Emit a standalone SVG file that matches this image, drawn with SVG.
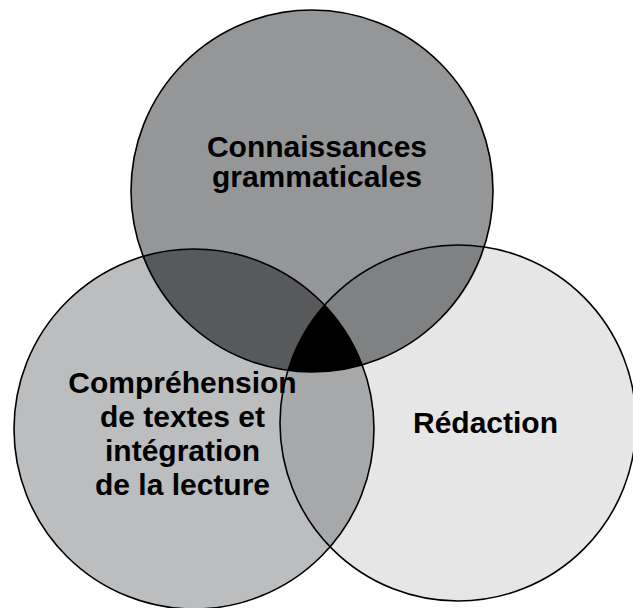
<svg xmlns="http://www.w3.org/2000/svg" width="633" height="608" viewBox="0 0 633 608">
  <style>
    .outline { fill: none; stroke: #000; stroke-width: 1.6; }
    .label { font-family: "Liberation Sans", Arial, Helvetica, sans-serif; font-weight: bold; font-size: 30px; fill: #000; text-anchor: middle; }
  </style>
  <defs>
    <clipPath id="clipTop"><circle cx="312" cy="191" r="181"/></clipPath>
    <clipPath id="clipLeft"><circle cx="194" cy="429" r="180"/></clipPath>
  </defs>
  <rect width="633" height="608" fill="#fff"/>
  <g id="regions">
    <circle cx="312" cy="191" r="181" fill="#959698"/>
    <circle cx="194" cy="429" r="180" fill="#bcbdbf"/>
    <circle cx="458" cy="423" r="178" fill="#e6e6e6"/>
    <circle cx="194" cy="429" r="180" fill="#58595b" clip-path="url(#clipTop)"/>
    <circle cx="458" cy="423" r="178" fill="#808183" clip-path="url(#clipTop)"/>
    <circle cx="458" cy="423" r="178" fill="#a7a8aa" clip-path="url(#clipLeft)"/>
    <g clip-path="url(#clipTop)">
      <circle cx="458" cy="423" r="178" fill="#000" clip-path="url(#clipLeft)"/>
    </g>
  </g>
  <g id="node-grammar">
    <circle class="outline" cx="312" cy="191" r="181"/>
    <text class="label" x="317" y="157">Connaissances</text>
    <text class="label" x="317" y="187">grammaticales</text>
  </g>
  <g id="node-reading">
    <circle class="outline" cx="194" cy="429" r="180"/>
    <text class="label" x="182.5" y="393">Compréhension</text>
    <text class="label" x="182.5" y="427">de textes et</text>
    <text class="label" x="182.5" y="461">intégration</text>
    <text class="label" x="182.5" y="495">de la lecture</text>
  </g>
  <g id="node-writing">
    <circle class="outline" cx="458" cy="423" r="178"/>
    <text class="label" x="485.5" y="433">Rédaction</text>
  </g>
  <g id="connectors"/>
</svg>
